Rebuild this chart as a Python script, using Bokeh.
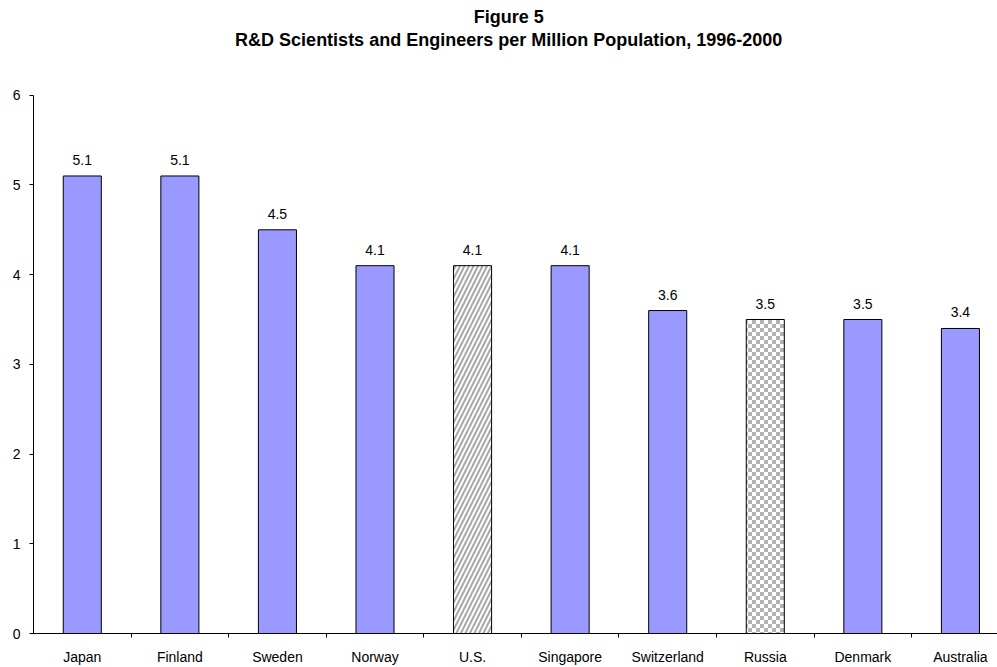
import base64
import struct
import zlib

from bokeh.plotting import figure
from bokeh.models import (Range1d, FixedTicker, ColumnDataSource, LabelSet, Label,
                          ImageURLTexture)
from bokeh.core.properties import value
from bokeh.embed import file_html
from bokeh.resources import INLINE

countries = ["Japan", "Finland", "Sweden", "Norway", "U.S.", "Singapore",
             "Switzerland", "Russia", "Denmark", "Australia"]
values = [5.1, 5.1, 4.5, 4.1, 4.1, 4.1, 3.6, 3.5, 3.5, 3.4]
patterns = [" ", " ", " ", " ", "/", " ", " ", "checker", " ", " "]
fills = ["#9999FF", "#9999FF", "#9999FF", "#9999FF", "#FFFFFF", "#9999FF",
         "#9999FF", "#FFFFFF", "#9999FF", "#9999FF"]
y_ticks = [0, 1, 2, 3, 4, 5, 6]
title_line1 = "Figure 5"
title_line2 = "R&D Scientists and Engineers per Million Population, 1996-2000"

xs = [i + 0.5 for i in range(len(countries))]
labels = ["%.1f" % v for v in values]


def checker_png(cell=4, light=(255, 255, 255), dark=(178, 178, 178)):
    size = cell * 2
    rows = b""
    for yy in range(size):
        row = b"\x00"
        for xx in range(size):
            c = dark if ((xx // cell) + (yy // cell)) % 2 == 0 else light
            row += bytes(c)
        rows += row

    def chunk(tag, data):
        return (struct.pack(">I", len(data)) + tag + data +
                struct.pack(">I", zlib.crc32(tag + data) & 0xffffffff))

    png = b"\x89PNG\r\n\x1a\n"
    png += chunk(b"IHDR", struct.pack(">IIBBBBB", size, size, 8, 2, 0, 0, 0))
    png += chunk(b"IDAT", zlib.compress(rows))
    png += chunk(b"IEND", b"")
    return "data:image/png;base64," + base64.b64encode(png).decode()


src = ColumnDataSource(dict(x=xs, top=values, fill=fills, pat=patterns, lab=labels))

# the frame reaches the top of the canvas so the title fits inside it;
# the y axis line itself is bounded to 0..6
p = figure(width=997, height=667, output_backend="svg", toolbar_location=None,
           x_range=Range1d(0, 9.88), y_range=Range1d(0, 7.056),
           min_border_top=0, min_border_left=33, min_border_right=0,
           min_border_bottom=32)
p.outline_line_color = None
p.xgrid.visible = False
p.ygrid.visible = False
p.background_fill_color = "white"

checker = ImageURLTexture(url=checker_png(), repetition="repeat")

p.vbar(x="x", top="top", bottom=0, width=0.39, source=src,
       fill_color="fill", line_color="black", line_width=1,
       hatch_pattern="pat", hatch_color="#a8a8a8", hatch_weight=2,
       hatch_scale=9, hatch_extra={"checker": checker})

ls = LabelSet(x="x", y="top", text="lab", source=src, text_align="center",
              text_baseline="middle", y_offset=16,
              text_font=value("Liberation Sans"),
              text_font_size=value("14px"), text_color="black")
p.add_layout(ls)

# axes
p.yaxis.ticker = FixedTicker(ticks=y_ticks)
p.yaxis.bounds = (0, 6)
p.yaxis.axis_line_color = "black"
p.yaxis.major_tick_line_color = "black"
p.yaxis.major_tick_in = 0
p.yaxis.major_tick_out = 4
p.yaxis.minor_tick_line_color = None
p.yaxis.major_label_text_font = "Liberation Sans"
p.yaxis.major_label_text_font_size = "14px"
p.yaxis.major_label_text_color = "black"
p.yaxis.major_label_standoff = 9

p.xaxis.ticker = FixedTicker(ticks=xs, minor_ticks=list(range(1, 10)))
p.xaxis.major_label_overrides = {x: c for x, c in zip(xs, countries)}
p.xaxis.major_tick_line_color = None
p.xaxis.major_tick_in = 0
p.xaxis.major_tick_out = 0
p.xaxis.minor_tick_in = 0
p.xaxis.minor_tick_out = 4
p.xaxis.minor_tick_line_color = "black"
p.xaxis.axis_line_color = "black"
p.xaxis.major_label_text_font = "Liberation Sans"
p.xaxis.major_label_text_font_size = "14px"
p.xaxis.major_label_text_color = "black"
p.xaxis.major_label_standoff = 11

# two-line title
for txt, y in [(title_line1, 6.867), (title_line2, 6.611)]:
    p.add_layout(Label(x=4.87, y=y, text=txt,
                       text_align="center", text_baseline="middle",
                       text_font="Liberation Sans", text_font_style="bold",
                       text_font_size="18px", text_color="black"))

open("out.html", "w").write(file_html(p, INLINE))
